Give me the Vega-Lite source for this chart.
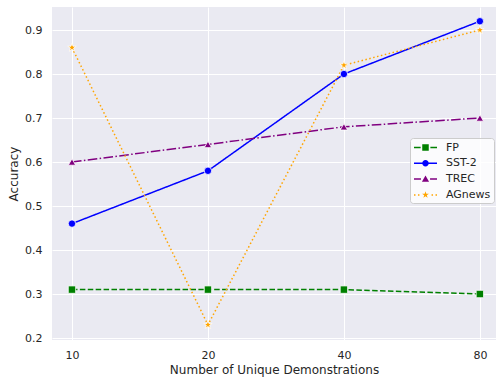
{
  "$schema": "https://vega.github.io/schema/vega-lite/v6.json",
  "autosize": "none",
  "width": 444,
  "height": 333,
  "padding": {"left": 52, "top": 7, "right": 0, "bottom": 38},
  "background": "white",
  "config": {
    "font": "DejaVu Sans",
    "view": {"fill": "#EAEAF2", "stroke": null},
    "axis": {
      "domain": false,
      "ticks": false,
      "grid": true,
      "gridColor": "white",
      "gridWidth": 1,
      "labelColor": "#262626",
      "labelFontSize": 11,
      "labelFont": "DejaVu Sans",
      "titleColor": "#262626",
      "titleFontSize": 12,
      "titleFontWeight": "normal",
      "titleFont": "DejaVu Sans"
    }
  },
  "data": {
    "values": [
      {"n": 10, "acc": 0.31, "series": "FP"},
      {"n": 20, "acc": 0.31, "series": "FP"},
      {"n": 40, "acc": 0.31, "series": "FP"},
      {"n": 80, "acc": 0.30, "series": "FP"},
      {"n": 10, "acc": 0.46, "series": "SST-2"},
      {"n": 20, "acc": 0.58, "series": "SST-2"},
      {"n": 40, "acc": 0.80, "series": "SST-2"},
      {"n": 80, "acc": 0.92, "series": "SST-2"},
      {"n": 10, "acc": 0.60, "series": "TREC"},
      {"n": 20, "acc": 0.64, "series": "TREC"},
      {"n": 40, "acc": 0.68, "series": "TREC"},
      {"n": 80, "acc": 0.70, "series": "TREC"},
      {"n": 10, "acc": 0.86, "series": "AGnews"},
      {"n": 20, "acc": 0.23, "series": "AGnews"},
      {"n": 40, "acc": 0.82, "series": "AGnews"},
      {"n": 80, "acc": 0.90, "series": "AGnews"}
    ]
  },
  "encoding": {
    "x": {
      "field": "n",
      "type": "quantitative",
      "title": "Number of Unique Demonstrations",
      "scale": {"type": "log", "base": 2, "domain": [9.032, 86.85], "nice": false, "zero": false},
      "axis": {"values": [10, 20, 40, 80], "format": "d", "labelPadding": 9, "titlePadding": 4}
    },
    "y": {
      "field": "acc",
      "type": "quantitative",
      "title": "Accuracy",
      "scale": {"domain": [0.1955, 0.9523], "nice": false, "zero": false},
      "axis": {"values": [0.2, 0.3, 0.4, 0.5, 0.6, 0.7, 0.8, 0.9], "format": ".1f", "labelPadding": 10, "titlePadding": 4}
    },
    "color": {
      "field": "series",
      "type": "nominal",
      "scale": {"domain": ["FP", "SST-2", "TREC", "AGnews"], "range": ["#008000", "#0000FF", "#800080", "#FFA500"]},
      "legend": {
        "title": null,
        "orient": "none",
        "legendX": 358,
        "legendY": 131,
        "fillColor": "rgba(255,255,255,0.8)",
        "strokeColor": "#cccccc",
        "cornerRadius": 3,
        "padding": 3,
        "symbolSize": 169,
        "symbolOffset": 6,
        "rowPadding": 3.8,
        "labelOffset": 14,
        "labelFontSize": 11,
        "labelColor": "#262626",
        "labelFont": "DejaVu Sans",
        "encode": {
          "symbols": {
            "update": {
              "shape": {"signal": "datum.value === 'FP' ? 'M-1.77,-0.115H-0.75V0.115H-1.77Z M-0.5,-0.5H0.5V0.5H-0.5Z M0.75,-0.115H1.77V0.115H0.75Z' : datum.value === 'SST-2' ? 'M-1.77,-0.115H1.77V0.115H-1.77Z M0.5,0A0.5,0.5 0 1,1 -0.5,0A0.5,0.5 0 1,1 0.5,0Z' : datum.value === 'TREC' ? 'M-1.77,-0.115H-0.7V0.115H-1.77Z M0,-0.55L0.55,0.4H-0.55Z M0.7,-0.115H1.77V0.115H0.7Z' : 'M-1.77,-0.115H-1.54V0.115H-1.77Z M-1.16,-0.115H-0.93V0.115H-1.16Z M0,-0.55L0.1235,-0.17L0.523,-0.17L0.2,0.065L0.323,0.445L0,0.21L-0.323,0.445L-0.2,0.065L-0.523,-0.17L-0.1235,-0.17Z M0.93,-0.115H1.16V0.115H0.93Z M1.54,-0.115H1.77V0.115H1.54Z'"},
              "fill": {"signal": "scale('color', datum.value)"},
              "fillOpacity": {"value": 1},
              "strokeWidth": {"value": 0},
              "strokeDash": {"value": [1, 0]}
            }
          }
        }
      }
    }
  },
  "layer": [
    {
      "mark": {"type": "line", "strokeWidth": 1.5},
      "encoding": {
        "strokeDash": {
          "field": "series",
          "type": "nominal",
          "scale": {"domain": ["FP", "SST-2", "TREC", "AGnews"], "range": [[5.5, 2.4], [1, 0], [9.6, 2.4, 1.5, 2.4], [1.5, 2.5]]},
          "legend": null
        }
      }
    },
    {
      "transform": [{"filter": "datum.series === 'FP'"}],
      "mark": {"type": "point", "shape": "square", "filled": true, "opacity": 1, "stroke": "white", "strokeWidth": 0.8, "size": 55}
    },
    {
      "transform": [{"filter": "datum.series === 'SST-2'"}],
      "mark": {"type": "point", "shape": "circle", "filled": true, "opacity": 1, "stroke": "white", "strokeWidth": 0.8, "size": 55}
    },
    {
      "transform": [{"filter": "datum.series === 'TREC'"}],
      "mark": {"type": "point", "shape": "triangle-up", "filled": true, "opacity": 1, "stroke": "white", "strokeWidth": 0.8, "size": 55}
    },
    {
      "transform": [{"filter": "datum.series === 'AGnews'"}],
      "mark": {"type": "point", "shape": "M0,-1L0.2245,-0.309L0.951,-0.309L0.363,0.118L0.588,0.809L0,0.382L-0.588,0.809L-0.363,0.118L-0.951,-0.309L-0.2245,-0.309Z", "filled": true, "opacity": 1, "stroke": "white", "strokeWidth": 0.8, "size": 80}
    }
  ]
}
